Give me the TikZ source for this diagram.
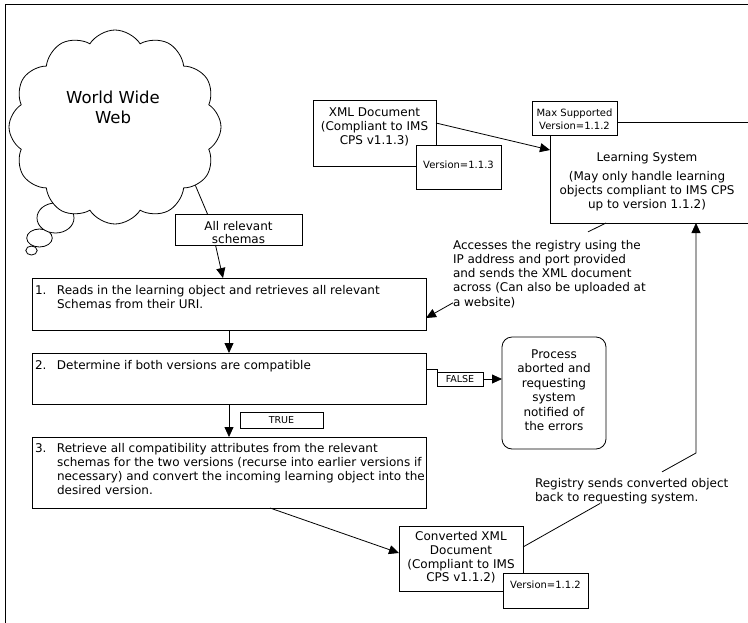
\documentclass[tikz,border=0pt]{standalone}
\usepackage{fontspec}
\setmainfont{DejaVu Sans}
\usetikzlibrary{shapes.symbols,shapes.geometric,arrows.meta}
\newcommand{\shl}[1]{\mbox{#1\hspace{8pt}}}
\begin{document}
\begin{tikzpicture}[x=1pt,y=-1pt,
  every node/.style={inner sep=0pt, outer sep=0pt},
  fnorm/.style={font=\fontsize{12}{14.3}\selectfont},
  fsmall/.style={font=\fontsize{10}{13}\selectfont},
  ftag/.style={font=\fontsize{9.5}{11}\selectfont},
  fbig/.style={font=\fontsize{16.5}{20}\selectfont},
  boxed/.style={draw, line width=0.8pt, fill=white, anchor=north west},
  conn/.style={line width=0.8pt},
  arr/.style={conn, -{Triangle[length=10pt,width=9pt]}},
  bubble/.style={draw, line width=0.8pt, fill=white, ellipse},
]
\useasboundingbox (0,0) rectangle (748,622);
\clip (0,0) rectangle (748,622);
\fill[white] (0,0) rectangle (748,622);
\draw[conn] (5,630) -- (5,4) -- (760,4);

% cloud
\node[bubble, minimum width=11.4pt, minimum height=9pt] (b3) at (31.5,250.5) {};
\node[bubble, minimum width=25.6pt, minimum height=18pt] (b2) at (39.5,238) {};
\node[bubble, minimum width=37pt, minimum height=30pt] (b1) at (55.5,218) {};
\node[cloud, draw, fill=white, line width=0.8pt, cloud puffs=12, cloud puff arc=115, aspect=1.1,
      minimum width=212pt, minimum height=194pt] (cloud) at (115,127) {};
\node[fbig, anchor=base] (www) at (113,103) {\parbox[t]{150pt}{\centering World Wide\\Web}};

% process boxes
\node[boxed, fnorm] (allrel) at (175,214) {\parbox[c][31pt][t]{127pt}{\centering\baselineskip=13.5pt\rule{0pt}{16pt}All relevant\\schemas}};

\node[boxed, fnorm, inner xsep=3pt] (s1) at (32,278) {\parbox[c][52pt][t]{388pt}{\rule{0pt}{16pt}\mbox{\makebox[22pt][l]{1.}Reads in the learning object and retrieves all relevant}\\\mbox{\hspace*{22pt}Schemas from their URI.}}};

\node[boxed, fnorm, inner xsep=3pt] (s2) at (32,353) {\parbox[c][51pt][t]{388pt}{\rule{0pt}{16pt}\mbox{\makebox[22pt][l]{2.}Determine if both versions are compatible}}};

\node[boxed, fnorm, inner xsep=3pt] (s3) at (32,437) {\parbox[c][71pt][t]{388pt}{\rule{0pt}{15pt}\mbox{\makebox[22pt][l]{3.}Retrieve all compatibility attributes from the relevant}\\\mbox{\hspace*{22pt}schemas for the two versions (recurse into earlier versions if}\\\mbox{\hspace*{22pt}necessary) and convert the incoming learning object into the}\\\mbox{\hspace*{22pt}desired version.}}};

\node[boxed, ftag, minimum width=46pt, minimum height=14pt] (false) at (437,372) {FALSE};
\node[boxed, ftag, minimum width=83pt, minimum height=16pt] (true) at (240,412) {TRUE};

\node[boxed, fnorm, rounded corners=10pt] (proc) at (502,337) {\parbox[c][112pt][t]{104pt}{\centering\baselineskip=14.5pt\rule{0pt}{21pt}Process\\aborted and\\requesting\\system\\notified of\\the errors}};

% documents and learning system
\node[boxed, fnorm] (xml) at (313,100) {\parbox[c][66pt][t]{123pt}{\centering\baselineskip=14pt\rule{0pt}{16pt}XML Document\\(Compliant to IMS\\CPS v1.1.3)}};
\node[boxed, fsmall] (ver3) at (416,145) {\parbox[c][44pt][t]{85pt}{\centering\rule{0pt}{23pt}Version=1.1.3}};

\node[boxed, fnorm] (ls) at (550,122) {\parbox[c][101pt][t]{202pt}{\centering\baselineskip=13.8pt\rule{0pt}{39pt}\shl{Learning System}\\[6pt]\shl{(May only handle learning}\\\shl{objects compliant to IMS CPS}\\\shl{up to version 1.1.2)}}};
\node[boxed, fsmall] (maxv) at (532,101) {\parbox[c][34pt][t]{85pt}{\centering\rule{0pt}{15pt}Max Supported\\Version=1.1.2}};

\node[boxed, fnorm] (conv) at (399,526) {\parbox[c][65pt][t]{124pt}{\centering\baselineskip=13.8pt\rule{0pt}{14.5pt}Converted XML\\Document\\(Compliant to IMS\\CPS v1.1.2)}};
\node[boxed, fsmall] (ver2) at (503,573) {\parbox[c][35pt][t]{85pt}{\centering\rule{0pt}{15pt}Version=1.1.2}};

% callout texts
\node[fnorm, anchor=base west] (acc) at (453,249) {\parbox[t]{200pt}{\mbox{Accesses the registry using the}\\\mbox{IP address and port provided}\\\mbox{and sends the XML document}\\\mbox{across (Can also be uploaded at}\\\mbox{a website)}}};
\node[fnorm, anchor=base west] (reg) at (535,487) {\parbox[t]{200pt}{\baselineskip=14pt\mbox{Registry sends converted object}\\\mbox{back to requesting system.}}};

% connectors
\draw[conn] (cloud.-36) -- ([xshift=-31pt]allrel.north);
\draw[arr] ([xshift=-23pt]allrel.south) -- ([xshift=-6pt]s1.north);
\draw[arr] (s1.south) -- (s2.north);
\draw[conn] ([yshift=9.5pt]s2.east) -| (false.north west);
\draw[arr] (false.east) -- (false.east -| proc.west);
\draw[arr] (s2.south) -- (s3.north);
\draw[arr] ([xshift=41pt]s3.south) -- ([yshift=5.5pt]conv.west);
\draw[conn] ([yshift=11.5pt]conv.east) -- ([xshift=65pt]reg.south west);
\coordinate (rc) at (696,453);
\draw[arr] ([xshift=127pt,yshift=6pt]reg.north west) -- (rc) -- (rc |- ls.south);
\draw[conn] ([xshift=-45pt]ls.south) -- ([xshift=135pt,yshift=8pt]acc.north west);
\draw[arr] ([yshift=5pt]acc.south west) -- ([yshift=-14pt]s1.east);
\draw[arr] ([yshift=10pt]xml.east) -- ([yshift=22.5pt]ls.west);
\end{tikzpicture}
\end{document}
